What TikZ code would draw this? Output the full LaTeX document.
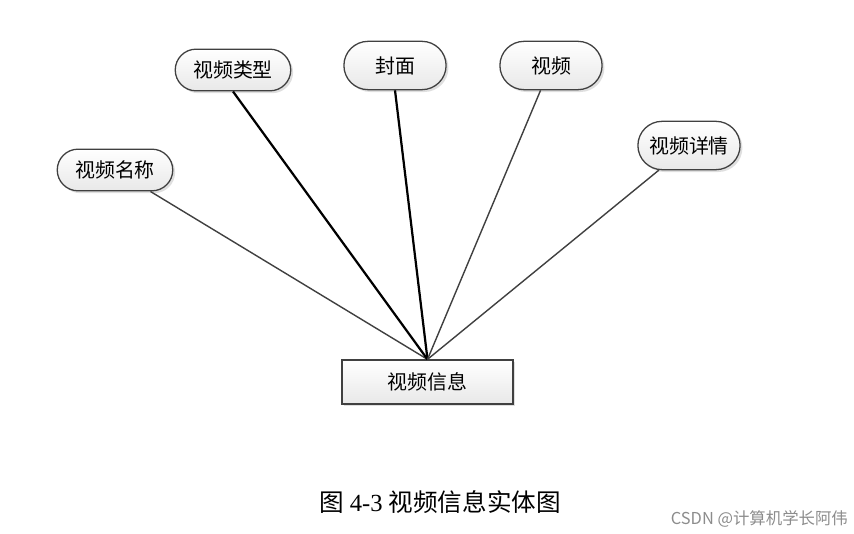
\documentclass[tikz,border=0pt]{standalone}
\usepackage{fontspec}
\setmainfont{Liberation Serif}
\newfontfamily\cjk{Noto Sans CJK SC}
\usetikzlibrary{shapes.misc, shadows, positioning}

\begin{document}
\begin{tikzpicture}[
    x=0.03cm, y=-0.03cm,
    attr/.style={rounded rectangle, draw=black!75, line width=1.1pt, minimum width=3.3cm, minimum height=1.45cm,
      top color=white, bottom color=black!9, font=\cjk\fontsize{17}{19}\selectfont,
      drop shadow={shadow xshift=2pt, shadow yshift=-2pt, fill=black!25, opacity=0.5}},
    entity/.style={rectangle, draw=black!75, line width=1.1pt, minimum width=5.13cm, minimum height=1.32cm,
      top color=white, bottom color=black!9, font=\cjk\fontsize{17}{19}\selectfont,
      drop shadow={shadow xshift=2pt, shadow yshift=-2pt, fill=black!25, opacity=0.5}},
    link/.style={draw=black!75, line width=1.2pt},
    keylink/.style={draw=black, line width=1.9pt}
  ]
    \useasboundingbox (0,0) rectangle (854,534);
    % entity and its attributes
    \node[entity] (info) at (427.5,382) {视频信息};
    \node[attr, minimum width=3.7cm, minimum height=1.25cm] (name) at (115,170) {视频名称};
    \node[attr, minimum width=3.7cm, minimum height=1.25cm] (type) at (233,70) {视频类型};
    \node[attr] (cover) at (395,65.5) {封面};
    \node[attr] (video) at (551,65.5) {视频};
    \node[attr] (detail) at (689,145.5) {视频详情};
    \draw[link] (name) -- (info.north);
    \draw[keylink] (type.south) -- (info.north);
    \draw[keylink] (cover.south) -- (info.north);
    \draw[link] (video) -- (info.north);
    \draw[link] (detail) -- (info.north);
    % caption
    \node[font=\fontsize{21}{24}\selectfont] (caption) at (440,502) {{\cjk 图} 4-3 {\cjk 视频信息实体图}};
    \node[font=\cjk\fontsize{14}{16}\selectfont, text=black!45, anchor=east] (mark) at (852,519) {CSDN @计算机学长阿伟};
\end{tikzpicture}
\end{document}
